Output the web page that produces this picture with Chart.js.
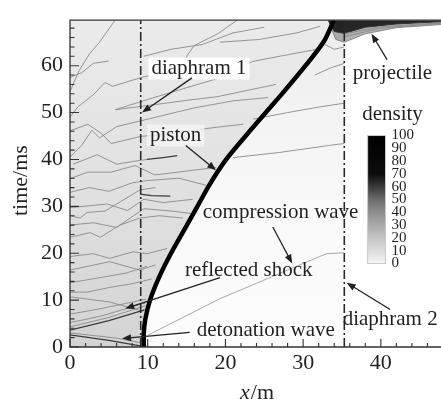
<!DOCTYPE html>
<html><head><meta charset="utf-8">
<script src="https://cdn.jsdelivr.net/npm/chart.js@4.4.1/dist/chart.umd.min.js"></script>
<style>
html,body{margin:0;padding:0;background:#fff;overflow:hidden}
#wrap{width:450px;height:405px}
</style></head><body>
<div id="wrap"><canvas id="c"></canvas></div>
<script>
const xTicks=[0,10,20,30,40];
const yTicks=[0,10,20,30,40,50,60];
const densityTicks=[0,10,20,30,40,50,60,70,80,90,100];
const xMax=48, tMax=69.7;
const diaphram1X=9.1, diaphram2X=35.3;

/* piston trajectory x(t) */
const pistonT=[0,3,6,10,15,20,25,30,35,40,45,50,55,60,65,68,69.7];
const pistonX=[9.5,9.5,9.7,10.3,11.5,13.0,14.7,16.4,18.1,20.1,22.6,25.2,27.8,30.3,32.6,33.5,33.9];

/* compression wave */
const compT=[2.5,10.3,19.9,20.1];
const compX=[10,19.3,33,35.3];

/* projectile band, lower edges */
const projCoreX=[33.2,34.0,35.3,38,42,48];
const projCoreT=[69.7,67.3,66.9,68.2,68.9,69.4];
const projFanX=[33.5,34.2,35.3,38,42,48];
const projFanT=[68.3,65.6,65.0,66.8,68.1,68.8];

/* density contours [x,t] */
const contours=[
[[0,54.5],[1.2,59],[2.5,62.5],[3.8,65],[5.8,69.7]],
[[0,49],[1,51.2],[3,53.8],[4.5,56.4],[5.5,55.6],[9,57.4],[13.9,59.4],[16,64.3],[19,66.8],[21.5,69.7]],
[[5.8,50.6],[10,52.8],[15,55.3],[19.3,57.4],[23.5,60.9],[27.9,62.3],[31.8,63.5]],
[[5.8,50.6],[10,51.5],[15,52.6],[19,53.4],[23,54.8],[26.5,56]],
[[0,40.5],[1.5,43],[2.8,46.2],[3.8,44.6],[6,47],[9,48.2],[12,49.4],[16,51],[21,52.5],[25.5,53.2]],
[[0,46.1],[2.3,47.5],[4,45.6],[5.3,43.4],[9.1,44.9],[12.6,45.5],[19,46.9],[22.3,47.5]],
[[0.4,39],[3.5,41],[6,39],[9,39.8],[9.9,40]],
[[0,35.9],[2.3,37.3],[5.3,37.3],[8.4,38.7],[10.9,36.7],[13.9,37.3],[18.8,38.3]],
[[0,33],[2.5,34],[5,33.2],[8,35],[10,35.5],[14,36],[17.5,34.5]],
[[0,29.7],[2.3,30.1],[4.8,30.5],[7.4,29.1],[9.5,31.5],[12,30.8],[15.8,31.5]],
[[0,28],[1.3,27.5],[2.2,28.7],[4.5,29],[6.5,31],[9,33.5],[11,34]],
[[0,26],[3,26.5],[6,25.5],[9.5,29.5],[13,29],[15.5,28.5]],
[[0,23.4],[2.6,24.4],[3.9,23.4],[6.4,26],[9,27.5],[11.5,28],[14.5,27.5]],
[[0,19.3],[3,19.9],[5.1,18.9],[8.1,20.3],[9.9,19.9],[12.5,21]],
[[0,16.4],[5.1,18.2],[9,16.4],[11,17.5]],
[[0,13.7],[3.9,14.8],[7.3,15.8],[9.9,17.2]],
[[0,11.7],[2.2,11.7],[5.1,12.7],[8,13.5],[10.5,14.5]],
[[0,10.7],[5.1,9.6],[9.4,7.6]],
[[0,4.3],[5,6.3],[9.7,8.8]],
[[0,5.2],[4,6.6],[9.7,9.4]],
[[0,7],[4,8.2],[9.8,10.2]],
[[0,3],[6,1.9],[9.4,0.8]],
[[0,57.5],[1.5,58.5],[3,60.5],[5,61]],
[[9.5,62],[13,63.5],[17,64.5],[21,67],[25,68.2]],
[[19.3,65],[24.4,65.6],[29.2,67],[32.2,68.4]],
[[21,40.4],[27,41.5],[33.4,43],[35.3,43.4]],
[[23.6,48.6],[28,50],[32.1,51.2],[35.3,52]],
[[31.5,58],[33.5,59.5],[35.3,60.5]],
[[32.8,64.5],[34,63.5],[35.3,64]],
[[35.3,66.2],[40,68],[48,69.1]],
[[35.3,66.8],[40,68.3],[48,69.2]]
];
const darkContours=[
[[0,2.6],[5,1.4],[9.2,0.2]],
[[0,3.6],[5,5.6],[9.6,7.9]],
[[9,32.6],[10.5,32.3],[12.9,32.2]],
[[9.9,40],[12,40.4],[13.8,40.8]]
];

const notes=[
{text:'diaphram 1',x:16.6,t:59.4,from:[15.7,57.4],to:[9.26,50.0],bg:'rgba(255,255,255,0.95)'},
{text:'piston',x:13.6,t:45.1,from:[14.9,43.0],to:[18.8,37.7],bg:'rgba(245,245,245,0.8)'},
{text:'projectile',x:41.5,t:58.4,from:[40.8,61.3],to:[38.8,66.8]},
{text:'compression wave',x:27.1,t:28.7,from:[26.1,25.6],to:[28.6,17.8]},
{text:'reflected shock',x:23.0,t:16.4,from:[19.3,14.8],to:[7.1,8.2]},
{text:'detonation wave',x:25.2,t:3.5,from:[15.4,3.1],to:[6.7,1.8]},
{text:'diaphram 2',x:41.2,t:5.9,from:[41.2,8.0],to:[35.6,13.7]}
];
const colorbar={x0:38.3,x1:40.6,t0:17.8,t1:45.1,title:'density',titleX:41.5,titleT:49.6};

const serif="'Liberation Serif','Times New Roman',serif";
const ink='#231f20';
const pts=(xs,ts)=>xs.map((x,i)=>({x:x,y:ts[i]}));
const toPts=a=>a.map(p=>({x:p[0],y:p[1]}));

const datasets=[];
datasets.push({data:pts(pistonX,pistonT),borderColor:'#000',borderWidth:4.5,tension:0.35,order:0});
datasets.push({data:[{x:diaphram1X,y:0},{x:diaphram1X,y:tMax}],borderColor:'#2a2a2a',borderWidth:1.6,borderDash:[9,3,2,3],order:1});
datasets.push({data:[{x:diaphram2X,y:0},{x:diaphram2X,y:tMax}],borderColor:'#2a2a2a',borderWidth:1.6,borderDash:[9,3,2,3],order:1});
darkContours.forEach(c=>datasets.push({data:toPts(c),borderColor:'#3c3c3c',borderWidth:1.3,order:2}));
contours.forEach(c=>datasets.push({data:toPts(c),borderColor:'#8a8a8a',borderWidth:0.9,order:3}));
datasets.push({data:pts(compX,compT),borderColor:'#a8a8a8',borderWidth:1,order:3});
datasets.push({data:pts(projCoreX,projCoreT),borderColor:'#333',borderWidth:1,fill:'end',backgroundColor:'rgba(25,25,25,0.92)',order:4});
datasets.push({data:pts(projFanX,projFanT),borderColor:'#777',borderWidth:0.8,fill:'end',backgroundColor:'rgba(100,100,100,0.5)',order:5});

const backdrop={
id:'backdrop',
beforeDatasetsDraw(chart){
const {ctx,chartArea:a,scales:{x,y}}=chart;
ctx.save();
ctx.beginPath();ctx.rect(a.left,a.top,a.right-a.left,a.bottom-a.top);ctx.clip();
let g=ctx.createLinearGradient(0,a.bottom,0,a.top);
g.addColorStop(0,'#d3d3d3');g.addColorStop(0.45,'#e0e0e0');g.addColorStop(1,'#ebebeb');
ctx.beginPath();ctx.moveTo(x.getPixelForValue(0),y.getPixelForValue(0));
pistonT.forEach((t,i)=>ctx.lineTo(x.getPixelForValue(pistonX[i]),y.getPixelForValue(t)));
ctx.lineTo(x.getPixelForValue(0),y.getPixelForValue(tMax));ctx.closePath();
ctx.fillStyle=g;ctx.fill();
let g2=ctx.createLinearGradient(0,a.bottom,0,a.top);
g2.addColorStop(0,'#fdfdfd');g2.addColorStop(0.5,'#f8f8f8');g2.addColorStop(1,'#ececec');
ctx.beginPath();
pistonT.forEach((t,i)=>ctx.lineTo(x.getPixelForValue(pistonX[i]),y.getPixelForValue(t)));
ctx.lineTo(x.getPixelForValue(diaphram2X),y.getPixelForValue(tMax));
ctx.lineTo(x.getPixelForValue(diaphram2X),y.getPixelForValue(0));ctx.closePath();
ctx.fillStyle=g2;ctx.fill();
ctx.restore();
}
};

function arrow(ctx,x0,y0,x1,y1){
const ang=Math.atan2(y1-y0,x1-x0),L=9,W=3.5;
ctx.beginPath();ctx.moveTo(x0,y0);ctx.lineTo(x1-Math.cos(ang)*L*0.8,y1-Math.sin(ang)*L*0.8);ctx.stroke();
ctx.beginPath();ctx.moveTo(x1,y1);
ctx.lineTo(x1-Math.cos(ang)*L+Math.sin(ang)*W,y1-Math.sin(ang)*L-Math.cos(ang)*W);
ctx.lineTo(x1-Math.cos(ang)*L-Math.sin(ang)*W,y1-Math.sin(ang)*L+Math.cos(ang)*W);
ctx.closePath();ctx.fill();
}

const decor={
id:'decor',
afterDraw(chart){
const {ctx,chartArea:a,scales:{x,y}}=chart;
const X=v=>x.getPixelForValue(v),Y=v=>y.getPixelForValue(v);
ctx.save();
/* frame */
ctx.strokeStyle='#333';ctx.lineWidth=1.3;
ctx.beginPath();ctx.moveTo(a.right+5,a.top);ctx.lineTo(a.left,a.top);ctx.lineTo(a.left,a.bottom);ctx.lineTo(a.right+5,a.bottom);ctx.stroke();
/* inward ticks */
ctx.lineWidth=1.1;ctx.beginPath();
for(let v=0;v<=xMax;v+=2){const L=xTicks.includes(v)?8:4;ctx.moveTo(X(v),a.bottom);ctx.lineTo(X(v),a.bottom-L);}
for(let v=0;v<tMax;v+=2){const L=yTicks.includes(v)?9:4.5;ctx.moveTo(a.left,Y(v));ctx.lineTo(a.left+L,Y(v));}
ctx.stroke();
/* axis titles */
ctx.fillStyle=ink;ctx.textBaseline='middle';
ctx.font='italic 22px '+serif;const w1=ctx.measureText('x').width;
ctx.font='22px '+serif;const w2=ctx.measureText('/m').width;
const cx=(a.left+a.right)/2-(w1+w2)/2;
ctx.textAlign='left';ctx.font='italic 22px '+serif;ctx.fillText('x',cx,393);
ctx.font='22px '+serif;ctx.fillText('/m',cx+w1+1,393);
ctx.save();ctx.translate(21,(a.top+a.bottom)/2-3);ctx.rotate(-Math.PI/2);
ctx.textAlign='center';ctx.fillText('time/ms',0,0);ctx.restore();
/* colorbar */
const bx0=X(colorbar.x0),bx1=X(colorbar.x1),by0=Y(colorbar.t0),by1=Y(colorbar.t1);
const g=ctx.createLinearGradient(0,by0,0,by1);
g.addColorStop(0,'#f6f6f6');g.addColorStop(0.2,'#c4c4c4');g.addColorStop(0.4,'#8e8e8e');
g.addColorStop(0.5,'#6c6c6c');g.addColorStop(0.6,'#3a3a3a');g.addColorStop(0.7,'#0c0c0c');g.addColorStop(1,'#000');
ctx.fillStyle=g;ctx.fillRect(bx0,by1,bx1-bx0,by0-by1);
ctx.strokeStyle='#c8c8c8';ctx.lineWidth=1;ctx.strokeRect(bx0,by1,bx1-bx0,by0-by1);
ctx.fillStyle=ink;ctx.font='15px '+serif;ctx.textAlign='left';
densityTicks.forEach(v=>{ctx.fillText(String(v),bx1+6,by0+(by1-by0)*v/100);});
ctx.font='21px '+serif;ctx.textAlign='center';
ctx.fillText(colorbar.title,X(colorbar.titleX),Y(colorbar.titleT));
/* annotations */
notes.forEach(n=>{
const tx=X(n.x),ty=Y(n.t);
ctx.font='21px '+serif;
if(n.bg){const w=ctx.measureText(n.text).width;ctx.fillStyle=n.bg;ctx.fillRect(tx-w/2-3,ty-11,w+6,22);}
ctx.fillStyle=ink;ctx.textAlign='center';ctx.fillText(n.text,tx,ty);
ctx.strokeStyle=ink;ctx.lineWidth=1.3;
arrow(ctx,X(n.from[0]),Y(n.from[1]),X(n.to[0]),Y(n.to[1]));
});
ctx.restore();
}
};

new Chart(document.getElementById('c'),{
type:'line',
data:{datasets:datasets},
options:{
responsive:true,maintainAspectRatio:false,animation:false,events:[],
layout:{padding:{top:7,right:7,left:0,bottom:0}},
elements:{point:{radius:0},line:{tension:0,fill:false}},
plugins:{legend:{display:false},tooltip:{enabled:false}},
scales:{
x:{type:'linear',min:0,max:xMax,grid:{display:false,drawTicks:false},border:{display:false},
ticks:{font:{family:serif,size:22},color:ink,padding:3,includeBounds:false,maxRotation:0},
afterBuildTicks:s=>{s.ticks=xTicks.map(v=>({value:v}));},
afterFit:s=>{s.height=58;}},
y:{type:'linear',min:0,max:tMax,grid:{display:false,drawTicks:false},border:{display:false},
ticks:{font:{family:serif,size:22},color:ink,padding:7,includeBounds:false},
afterBuildTicks:s=>{s.ticks=yTicks.map(v=>({value:v}));},
afterFit:s=>{s.width=70;}}
}
},
plugins:[backdrop,decor]
});
</script>
</body></html>
